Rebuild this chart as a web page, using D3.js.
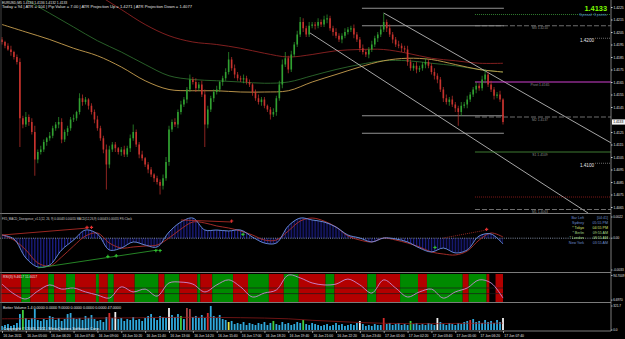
<!DOCTYPE html>
<html>
<head>
<meta charset="utf-8">
<script src="https://cdn.jsdelivr.net/npm/d3@7"></script>
<style>
html, body { margin: 0; padding: 0; background: #000; overflow: hidden; }
svg { display: block; font-family: "Liberation Sans", Arial, sans-serif; }
</style>
</head>
<body>
<script>
// EURUSD M5 screenshot - prices kept as pips above 1.4000
const firstOpen = 199
const closePips = [197,194,191,189,185,181,136,131,137,133, 125,103,109,111,117,120,122,128,131,133,
    119,125,128,135,136,141,152,149,151,146, 141,135,128,120,111,99,111,115,112,109,
    111,107,112,120,125,115,107,104,99,95, 91,88,85,82,88,101,127,133,131,141,
    147,151,159,167,165,160,163,155,131,143, 152,157,159,165,168,173,183,176,171,168,
    167,168,165,163,157,152,149,151,146,143, 139,141,152,163,179,184,175,187,195,203,
    213,208,203,210,211,210,213,211,215,216, 208,205,202,199,202,205,207,208,203,199,
    192,189,187,191,195,200,203,207,213,208, 203,199,195,194,192,191,181,176,178,175,
    176,179,181,178,173,170,167,159,152,149, 151,147,144,141,146,147,151,155,159,162,
    160,167,171,163,159,154,155,151,133]
const upWick = [2,1,2,3,1,2,3,2,4,2, 3,5,2,3,2,1,3,2,2,4, 3,2,2,2,3,1,4,3,2,1, 2,2,3,2,2,4,3,2,2,1,
    2,3,2,3,6,2,2,3,1,2, 2,1,2,2,3,4,3,2,3,2, 3,2,2,4,2,3,2,3,4,3, 2,2,3,1,2,3,6,2,3,2,
    2,3,2,2,1,2,3,2,2,1, 2,3,2,3,4,5,2,3,2,3, 4,3,2,3,2,2,3,2,3,3, 2,2,3,2,2,3,2,2,3,2,
    2,3,2,2,3,2,2,3,7,2, 3,2,2,3,2,2,3,2,2,3, 2,2,3,2,2,3,2,2,2,3, 2,3,2,2,3,2,3,2,2,3,
    2,3,4,2,3,2,2,3,1]
const downWick = [2,2,1,3,2,2,23,3,2,3, 2,13,3,2,2,3,2,2,2,3, 3,2,3,2,2,2,2,3,2,3, 2,3,2,2,3,20,3,2,3,2,
    3,2,2,3,2,2,3,2,2,3, 2,3,2,7,3,2,3,2,2,3, 2,2,3,2,2,3,2,2,18,3, 2,3,2,2,3,2,2,2,3,2,
    2,3,2,2,3,2,2,3,2,2, 4,2,3,2,3,2,3,2,2,2, 2,3,2,2,2,3,2,2,2,3, 2,3,2,2,3,2,2,2,3,2,
    3,2,2,3,2,2,3,2,2,3, 2,3,2,2,3,2,3,2,2,3, 2,2,3,2,2,3,3,2,3,2, 3,2,3,11,3,2,3,2,2,3,
    2,2,3,2,2,3,2,2,2]

// moving averages, one value every 8 bars
const maRed = [278,269,259,247,235,223,211,202,197,195,192,188,185,187,190,191,191,188,184,182,180,180]
const maGreen = [243,231,220,209,198,189,179,170,167,166,165,164,165,170,175,179,182,182,180,178,175,173]
const maOrange = [211,205,199,192,186,177,166,159,158,158,157,157,158,165,171,177,182,184,183,179,175,173]

// channel lines [bar, pips]
const channelUpper = [[128, 220.2], [204.3, 116.2]]
const channelLower = [[103.3, 204.2], [196.5, 60.2]]
const dayLevels = [1.4224, 1.4210, 1.4138, 1.4124]
const pivotPrices = [1.4219, 1.4210, 1.4165, 1.4137, 1.4109, 1.4073, 1.4063]
const pivotNames = ["", "M3 1.4210", "Pivot 1.4165", "M2 1.4137", "S1 1.4109", "", "M1 1.4063"]
const roundPrices = [1.4200, 1.4100]
const priceTicks = [1.4225,1.4215,1.4205,1.4195,1.4185,1.4175,1.4165,1.4155,1.4145,1.4125,1.4115,1.4105,1.4095,1.4085,1.4075,1.4065]
const lastPrice = 1.4133

// MACD (units of 0.00001), one value every 4 bars
const macdMain = [33,-8,-205,-299,-278,-122,-19,85,44,-122, -102,-39,-71,-91,64,168,209,85,85,75,
    85,12,-50,-50,127,209,189,168,116,33, 2,-39,2,-8,-39,-102,-143,-102,-153,-122, 23,44,-60]
const macdSignal = [33,-19,-122,-257,-288,-195,-81,23,54,-50, -102,-91,-81,-71,2,95,168,158,127,106,
    75,33,-19,-19,75,178,209,178,116,23, -19,-39,2,-19,-50,-91,-143,-164,-174,-133, -19,54,12]
const bearLines = [[[0, 33], [29, 106]], [[60, 189], [77, 168]]]
const bearDotted = [[148, 2], [162.5, 85]]
const bullLines = [[[12, -309], [52.3, -122]]]
const bearArrows = [[28.5, 112], [30, 112], [77, 178], [162.5, 92]]
const bullArrows = [[35.5, -190], [38.3, -182], [51.6, -128], [53, -128], [80.8, 40], [145.2, -96]]

const clockNames = ["Bar Left", "Sydney", "* Tokyo", "* Berlin", "* London", "New York"]
const clockTimes = ["[04:41]", "05:55 PM", "04:55 PM", "09:55 AM", "08:55 AM", "03:55 AM"]

// RSI(3), one value every 4 bars
const rsiVals = [64,29,11,39,61,46,50,36,25,14, 54,36,46,21,68,71,64,36,61,79,
    54,18,32,43,96,86,68,61,64,82, 61,32,79,50,18,36,46,14,36,50, 79,68,14]
const bandStarts = [0,7,10,16,18,22,25,32,33,36,38,45,53,55,60,66,67,71,78,83,90,95,100,109,112,123,126,134,140,143,155,157,163,164,166,168.5]
const bandKinds = "rgrgrgrgrgrgrgrgrgrgrgrgrgrgrgrgrkr"

// better volume
const volumes = [54,67,80,54,67,94,214,268,161,134, 161,281,134,121,147,134,188,174,134,161,
    121,147,214,228,161,147,161,134,188,161, 201,147,121,134,107,174,228,161,241,147,
    161,121,147,134,174,134,147,121,161,188, 214,161,134,188,174,161,295,201,174,214,
    188,147,295,281,174,188,161,201,161,228, 322,188,161,201,147,134,107,121,80,94,
    80,107,67,94,80,67,94,80,107,67, 94,121,80,67,107,80,94,67,80,107,
    94,134,80,67,94,80,67,54,67,80, 54,67,94,67,80,54,67,80,67,94,
    121,80,54,67,54,80,67,67,161,80, 94,67,80,94,67,80,67,121,80,94,
    67,80,67,94,80,67,161,107,80,67, 94,80,67,94,80,107,121,134,147,107,
    121,94,134,107,121,94,134,107,161]
const volKinds = [[7,"churn"],[36,"climax"],[38,"high"],[56,"high"],[60,"churn"],[62,"climaxChurn"],[63,"climaxChurn"],
    [69,"climax"],[76,"low"],[91,"churn"],[101,"churn"],[120,"high"],[128,"climax"],[137,"churn"],[146,"high"],[157,"climax"],[168,"high"]]
const volAvg = [150,152,155,158,160,162,165,168,170,168,165,160,150,130,115,100,90,85,85,88,90,92]

const timeLabels = ["16 Jun 2011","16 Jun 05:00","16 Jun 06:20","16 Jun 07:40","16 Jun 09:00","16 Jun 10:20",
    "16 Jun 11:40","16 Jun 13:00","16 Jun 14:20","16 Jun 15:40","16 Jun 17:00","16 Jun 18:20","16 Jun 19:40",
    "16 Jun 21:00","16 Jun 22:20","16 Jun 23:40","17 Jun 01:00","17 Jun 02:20","17 Jun 03:40","17 Jun 05:00",
    "17 Jun 06:20","17 Jun 07:40"]

const width = 625, height = 339, axisX = 611
const pip = (p) => 1.4 + p / 10000

const svg = d3.select("body").append("svg").attr("width", width).attr("height", height)
svg.append("rect").attr("width", width).attr("height", height).attr("fill", "#000")

const x = d3.scaleLinear().domain([0, 168]).range([2, 503])
const yMain = d3.scaleLinear().domain([1.4225, 1.4065]).range([7, 207])
const yMacd = d3.scaleLinear().domain([-0.0033, 0.0022]).range([270, 217])
const yRsi = d3.scaleLinear().domain([0, 100]).range([302, 274])
const yVol = d3.scaleLinear().domain([0, 321.7]).range([330, 306])

const defs = svg.append("defs")
const clips = { main: [0, 213], macd: [214, 272], rsi: [273, 302], vol: [303, 331] }
Object.entries(clips).forEach(([k, v]) => {
    defs.append("clipPath").attr("id", "clip-" + k)
        .append("rect").attr("x", 0).attr("y", v[0]).attr("width", axisX).attr("height", v[1] - v[0])
})
const pat = defs.append("pattern").attr("id", "hist").attr("patternUnits", "userSpaceOnUse")
    .attr("x", x(0) - 0.6).attr("width", x(1) - x(0)).attr("height", 4)
pat.append("rect").attr("width", 1.3).attr("height", 4).attr("fill", "#1c1f8a")

const smallText = (g, tx, ty, str, size, fill, anchor) => g.append("text")
    .attr("x", tx).attr("y", ty).attr("font-size", size).attr("fill", fill)
    .attr("text-anchor", anchor || "start").text(str)

// ---------- main pane ----------
const main = svg.append("g").attr("clip-path", "url(#clip-main)")

const maLine = (arr) => d3.line().curve(d3.curveCatmullRom)
    .x((d, k) => x(k * 8)).y((d) => yMain(pip(d)))(arr)
main.append("path").attr("d", maLine(maRed)).attr("fill", "none").attr("stroke", "#8e2323").attr("stroke-width", 0.9)
main.append("path").attr("d", maLine(maGreen)).attr("fill", "none").attr("stroke", "#2d6a2d").attr("stroke-width", 0.9)
main.append("path").attr("d", maLine(maOrange)).attr("fill", "none").attr("stroke", "#c9a050").attr("stroke-width", 0.9)

const trend = d3.line().x((d) => x(d[0])).y((d) => yMain(pip(d[1])))
main.append("path").attr("d", trend(channelUpper)).attr("stroke", "#cfcfcf").attr("stroke-width", 0.8).attr("fill", "none")
main.append("path").attr("d", trend(channelLower)).attr("stroke", "#cfcfcf").attr("stroke-width", 0.8).attr("fill", "none")

main.selectAll(".day").data(dayLevels).join("line")
    .attr("x1", x(120.7)).attr("x2", x(168.3))
    .attr("y1", (d) => yMain(d)).attr("y2", (d) => yMain(d))
    .attr("stroke", "#b8b8b8").attr("stroke-width", 0.8)

const pivotStyle = [
    { c: "#3c9a3c", dash: "1,1", w: 0.8 }, { c: "#8a8a8a", dash: "5,2", w: 0.8 },
    { c: "#d040d0", dash: null, w: 1 }, { c: "#8a8a8a", dash: "5,2", w: 0.8 },
    { c: "#4f9a3f", dash: null, w: 0.8 }, { c: "#a02020", dash: "1,1", w: 0.8 },
    { c: "#8a8a8a", dash: "5,2", w: 0.8 }]
pivotPrices.forEach((p, k) => {
    main.append("line").attr("x1", x(158.6)).attr("x2", axisX)
        .attr("y1", yMain(p)).attr("y2", yMain(p))
        .attr("stroke", pivotStyle[k].c).attr("stroke-width", pivotStyle[k].w)
        .attr("stroke-dasharray", pivotStyle[k].dash)
    if (pivotNames[k]) smallText(main, 540, yMain(p) + 3.6, pivotNames[k], 3.4, "#8c8c8c", "middle")
})
roundPrices.forEach((p) => {
    main.append("line").attr("x1", 595).attr("x2", axisX).attr("y1", yMain(p)).attr("y2", yMain(p))
        .attr("stroke", "#9a9a9a").attr("stroke-width", 0.7).attr("stroke-dasharray", "1,1")
    smallText(main, 587, yMain(p) + 4, p.toFixed(4), 4.6, "#e8e8e8", "middle")
})

// candles
const bars = closePips.map((c, i) => {
    const o = i ? closePips[i - 1] : firstOpen
    return { i, o, c, h: Math.max(o, c) + upWick[i], l: Math.min(o, c) - downWick[i] }
})
const candleColor = (d) => d.c > d.o ? "#31a131" : d.c < d.o ? "#c8332e" : "#aaaaaa"
const cg = main.append("g")
cg.selectAll("line").data(bars).join("line")
    .attr("x1", (d) => x(d.i)).attr("x2", (d) => x(d.i))
    .attr("y1", (d) => yMain(pip(d.h))).attr("y2", (d) => yMain(pip(d.l)))
    .attr("stroke", candleColor).attr("stroke-width", 0.7)
cg.selectAll("rect").data(bars).join("rect")
    .attr("x", (d) => x(d.i) - 0.8).attr("width", 1.6)
    .attr("y", (d) => yMain(pip(Math.max(d.o, d.c))))
    .attr("height", (d) => Math.max(0.8, yMain(pip(Math.min(d.o, d.c))) - yMain(pip(Math.max(d.o, d.c)))))
    .attr("fill", candleColor)

smallText(svg, 2, 3.6, "EURUSD,M5  1.4133 1.4136 1.4132 1.4133", 3.4, "#e0e0e0")
smallText(svg, 2, 8.4, "Today = 94   |   ATR = 104   |   Pip Value = 7.00   |   ATR Projection Up = 1.4271   |   ATR Projection Down = 1.4077", 3.4, "#e0e0e0")
    .attr("textLength", 190).attr("lengthAdjust", "spacingAndGlyphs")
smallText(svg, 607, 10.5, lastPrice.toFixed(4), 7.4, "#7cfc00", "end").attr("font-weight", "bold")
smallText(svg, 607, 16, "Spread: 3 points", 3.8, "#4f86c0", "end")

// ---------- MACD pane ----------
const macd = svg.append("g").attr("clip-path", "url(#clip-macd)")
const mv = (v) => yMacd(v / 100000)
macd.append("path").attr("fill", "url(#hist)")
    .attr("d", d3.area().curve(d3.curveCatmullRom).x((d, k) => x(k * 4)).y0(yMacd(0)).y1((d) => mv(d))(macdMain))
macd.append("line").attr("x1", 0).attr("x2", axisX).attr("y1", yMacd(0)).attr("y2", yMacd(0))
    .attr("stroke", "#b8c8e8").attr("stroke-width", 0.7).attr("stroke-dasharray", "1,1.2")
const mLine = d3.line().curve(d3.curveCatmullRom).x((d, k) => x(k * 4)).y((d) => mv(d))
macd.append("path").attr("d", mLine(macdSignal)).attr("fill", "none").attr("stroke", "#b3302c").attr("stroke-width", 0.9)
macd.append("path").attr("d", mLine(macdMain)).attr("fill", "none").attr("stroke", "#6f95e6").attr("stroke-width", 0.9)
const divLine = d3.line().x((d) => x(d[0])).y((d) => mv(d[1]))
bearLines.forEach((l) => macd.append("path").attr("d", divLine(l)).attr("stroke", "#c0302a").attr("stroke-width", 0.8))
bullLines.forEach((l) => macd.append("path").attr("d", divLine(l)).attr("stroke", "#2fa52f").attr("stroke-width", 0.8))
macd.append("path").attr("d", divLine(bearDotted)).attr("stroke", "#b0302a").attr("stroke-width", 0.8).attr("stroke-dasharray", "1,1")
const star = d3.symbol().type(d3.symbolCross).size(6)
macd.selectAll(".ba").data(bearArrows).join("path").attr("d", star)
    .attr("transform", (d) => `translate(${x(d[0])},${mv(d[1])})`).attr("fill", "#e03030")
macd.selectAll(".bu").data(bullArrows).join("path").attr("d", star)
    .attr("transform", (d) => `translate(${x(d[0])},${mv(d[1])})`).attr("fill", "#30c030")
smallText(svg, 2, 220, "FX5_MACD_Divergence_v1.1(12, 26, 9)  0.00043  0.00055   MACD(12,26,9)  0.00043  0.00055   FXi Clock", 3.3, "#d0d0d0")
    .attr("textLength", 130).attr("lengthAdjust", "spacingAndGlyphs")
clockNames.forEach((n, k) => {
    const c = n.startsWith("*") ? "#a8dc8c" : "#6f8fd0"
    smallText(svg, 584, 219 + k * 5, n, 3.6, k === 2 ? "#d8e070" : c, "end")
    smallText(svg, 608, 219 + k * 5, clockTimes[k], 3.6, k === 2 ? "#d8e070" : c, "end")
})

// ---------- RSI pane ----------
const rsi = svg.append("g").attr("clip-path", "url(#clip-rsi)")
const bandColor = { r: "#b30000", g: "#008a00", k: "#000000" }
rsi.selectAll("rect").data(bandStarts.slice(0, -1)).join("rect")
    .attr("x", (d) => x(d) - 1.5).attr("width", (d, k) => x(bandStarts[k + 1]) - x(d))
    .attr("y", yRsi(100)).attr("height", yRsi(0) - yRsi(100))
    .attr("fill", (d, k) => bandColor[bandKinds[k]])
;[50, 30].forEach((lv) => rsi.append("line").attr("x1", 0).attr("x2", x(168.5) - 1.5)
    .attr("y1", yRsi(lv)).attr("y2", yRsi(lv)).attr("stroke", "#1a1a1a").attr("stroke-width", 0.7))
rsi.append("path").attr("fill", "none").attr("stroke", "#c98ad6").attr("stroke-width", 0.9)
    .attr("d", d3.line().curve(d3.curveCatmullRom).x((d, k) => x(k * 4)).y((d) => yRsi(d))(rsiVals))
smallText(svg, 3, 277.5, "RSI(3)  9.4617  11.6017", 3.4, "#e0e0e0")

// ---------- Volume pane ----------
const vol = svg.append("g").attr("clip-path", "url(#clip-vol)")
const kindColor = { churn: "#3fcf3f", climax: "#d42a2a", high: "#f2f2f2", low: "#e8e84a", climaxChurn: "#a84040" }
const kindMap = new Map(volKinds)
vol.selectAll("rect").data(volumes).join("rect")
    .attr("x", (d, i) => x(i) - 0.9).attr("width", 1.8)
    .attr("y", (d) => yVol(d)).attr("height", (d) => yVol(0) - yVol(d))
    .attr("fill", (d, i) => kindMap.has(i) ? kindColor[kindMap.get(i)] : "#2fa9dd")
vol.append("path").attr("fill", "none").attr("stroke", "#9a1c1c").attr("stroke-width", 0.7)
    .attr("d", d3.line().curve(d3.curveCatmullRom).x((d, k) => x(k * 8)).y((d) => yVol(d))(volAvg))
smallText(svg, 3, 308.5, "Better Volume 1.4  0.0000  0.0000  9.0000  0.0000  0.0000  0.0000  47.0000", 3.3, "#e0e0e0")
    .attr("textLength", 118).attr("lengthAdjust", "spacingAndGlyphs")
smallText(svg, 3, 329.5, "Copyright © 2005-2011, MetaQuotes Software Corp.", 3.3, "#f0f0f0")
    .attr("textLength", 97).attr("lengthAdjust", "spacingAndGlyphs")

// ---------- frames & axes ----------
const frame = svg.append("g").attr("stroke", "#9a9a9a").attr("stroke-width", 0.8)
;[213.5, 272.5, 302.5, 331].forEach((yy) => frame.append("line").attr("x1", 0).attr("x2", axisX).attr("y1", yy).attr("y2", yy))
frame.append("line").attr("x1", axisX).attr("x2", axisX).attr("y1", 0).attr("y2", 331)
frame.append("line").attr("x1", 1).attr("x2", 1).attr("y1", 0).attr("y2", 331).attr("stroke", "#555")

const priceAxis = svg.append("g").attr("transform", `translate(${axisX},0)`)
    .call(d3.axisRight(yMain).tickValues(priceTicks).tickFormat(d3.format(".4f")).tickSize(1.5).tickPadding(1))
priceAxis.select(".domain").remove()
priceAxis.selectAll("text").attr("font-size", 3.3).attr("fill", "#e0e0e0")
priceAxis.selectAll("line").attr("stroke", "#cfcfcf")
svg.append("rect").attr("x", axisX + 1).attr("y", yMain(lastPrice) - 2.6).attr("width", 13).attr("height", 5.2).attr("fill", "#f4f4f4")
smallText(svg, axisX + 2.2, yMain(lastPrice) + 1.3, lastPrice.toFixed(4), 3.3, "#000")

const paneLabels = [[yMacd(0.0022), "0.0022"], [yMacd(0), "0.00"], [yMacd(-0.0033), "-0.0033"],
    [yRsi(94.7), "94.7009"], [yRsi(6.7), "6.6970"], [yVol(321.7), "321.7"], [yVol(0), "0.0"]]
paneLabels.forEach(([yy, t]) => {
    svg.append("line").attr("x1", axisX).attr("x2", axisX + 1.5).attr("y1", yy).attr("y2", yy).attr("stroke", "#cfcfcf").attr("stroke-width", 0.8)
    smallText(svg, axisX + 2.2, yy + 1.2, t, 3.1, "#e0e0e0")
})

const timeAxis = svg.append("g").attr("transform", "translate(0,331)")
    .call(d3.axisBottom(x).tickValues(d3.range(0, 169, 8)).tickFormat((d, k) => timeLabels[k]).tickSize(2).tickPadding(1.5))
timeAxis.select(".domain").remove()
timeAxis.selectAll("line").attr("stroke", "#cfcfcf").attr("stroke-width", 0.7)
timeAxis.selectAll("text").attr("font-size", 3.4).attr("fill", "#e0e0e0").attr("text-anchor", "start").attr("dx", 0.8)
</script>
</body>
</html>
